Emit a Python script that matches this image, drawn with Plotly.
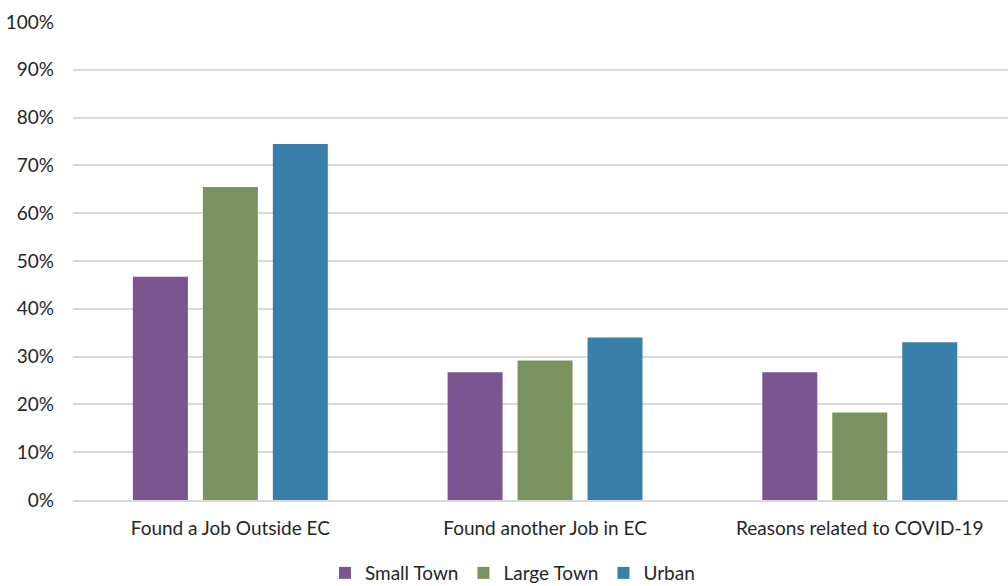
import plotly.graph_objects as go

categories = ["Found a Job Outside EC", "Found another Job in EC", "Reasons related to COVID-19"]
small_town = [0.467, 0.267, 0.267]
large_town = [0.655, 0.292, 0.183]
urban = [0.745, 0.340, 0.330]
series_names = ["Small Town", "Large Town", "Urban"]
colors = ["#7B5590", "#7A9160", "#3A7EAA"]
y_ticks = [i / 10 for i in range(11)]
y_tick_labels = [f"{i*10}%" for i in range(11)]

fig = go.Figure()
for name, vals, col in zip(series_names, [small_town, large_town, urban], colors):
    fig.add_trace(go.Bar(name=name, x=categories, y=vals, marker=dict(color=col, line=dict(width=0))))

fig.update_layout(
    width=1008, height=586,
    margin=dict(l=73, r=0, t=22, b=86, autoexpand=False),
    barmode="group", bargap=0.333, bargroupgap=0.214,
    plot_bgcolor="white", paper_bgcolor="white",
    font=dict(family="Lato, Open Sans, sans-serif", size=19, color="#262626"),
    yaxis=dict(range=[0, 1], tickvals=y_ticks, ticktext=y_tick_labels,
               showgrid=True, gridcolor="#D9D9D9", gridwidth=1.5, zeroline=False,
               ticks="", ticklabelstandoff=18, showline=False, automargin=False),
    xaxis=dict(range=[-0.5, 2.471], showline=True, linecolor="#D9D9D9", linewidth=1.5,
               ticks="", ticklabelstandoff=10, automargin=False),
    legend=dict(orientation="h", x=0.47, xanchor="center", y=-0.113, yanchor="top",
                font=dict(size=19), itemwidth=30, traceorder="normal"),
    showlegend=True,
)
fig.write_html("out.html")
